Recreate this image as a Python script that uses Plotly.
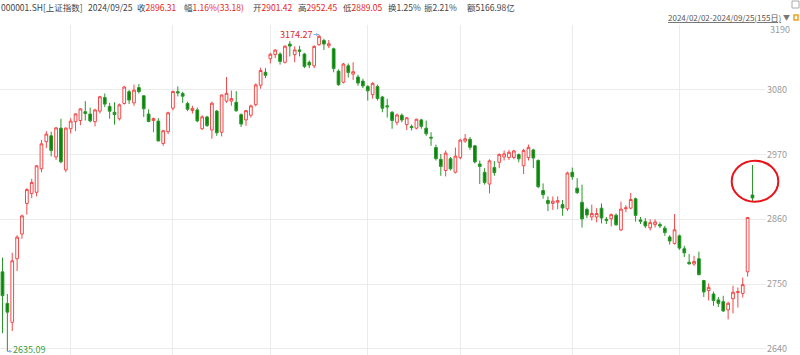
import plotly.graph_objects as go

# ---------------- data ----------------
feb_days = [2, 5, 6, 7, 8, 19, 20, 21, 22, 23, 26, 27, 28, 29]
mar_days = [1, 4, 5, 6, 7, 8, 11, 12, 13, 14, 15, 18, 19, 20, 21, 22, 25, 26, 27, 28, 29]
apr_days = [1, 2, 3, 8, 9, 10, 11, 12, 15, 16, 17, 18, 19, 22, 23, 24, 25, 26, 29, 30]
may_days = [6, 7, 8, 9, 10, 13, 14, 15, 16, 17, 20, 21, 22, 23, 24, 27, 28, 29, 30, 31]
jun_days = [3, 4, 5, 6, 7, 11, 12, 13, 14, 17, 18, 19, 20, 21, 24, 25, 26, 27, 28]
jul_days = [1, 2, 3, 4, 5, 8, 9, 10, 11, 12, 15, 16, 17, 18, 19, 22, 23, 24, 25, 26, 29, 30, 31]
aug_days = [1, 2, 5, 6, 7, 8, 9, 12, 13, 14, 15, 16, 19, 20, 21, 22, 23, 26, 27, 28, 29, 30]
sep_days = [2, 3, 4, 5, 6, 9, 10, 11, 12, 13, 18, 19, 20, 23, 24, 25]

opens = [
    2770.7, 2717, 2685, 2793, 2835, 2887, 2904, 2906, 2946, 2992, 3002, 2966, 3015, 2944,
    3014, 3026, 3028, 3043, 3039, 3026, 3044, 3067, 3052, 3042, 3031, 3057, 3077, 3058, 3084, 3070, 3039, 3028, 3027, 2989, 3009,
    3049, 3077, 3074, 3057, 3045, 3046, 3014, 3034, 3012, 3044, 3008, 3061, 3061, 3059, 3038, 3029, 3037, 3055, 3088, 3110,
    3133, 3140, 3141, 3127, 3158, 3140, 3148, 3141, 3127, 3121, 3157, 3164, 3155, 3150, 3112, 3093, 3121, 3107, 3102, 3095,
    3086, 3072, 3086, 3068, 3053, 3042, 3025, 3037, 3021, 3018, 3015, 3029, 3015, 2999.5, 2982, 2962, 2943, 2963, 2940,
    2965, 2993, 2996, 2985, 2954, 2940, 2920, 2948, 2957, 2966, 2965, 2965, 2970, 2951, 2965, 2978, 2960, 2909, 2892, 2887, 2889, 2885, 2878,
    2940, 2913, 2889, 2877, 2864, 2864, 2879, 2860, 2861, 2867, 2842, 2878, 2879, 2895, 2859, 2856, 2845.5, 2851, 2851, 2845, 2830, 2819,
    2832, 2810, 2787, 2784, 2793, 2756, 2739, 2733, 2723, 2720, 2706, 2725, 2735.5, 2734, 2770.75, 2901.42,
]
highs = [
    2795, 2733, 2803, 2833, 2868, 2913, 2929, 2952, 2995, 3010, 3009, 3017, 3031, 3016,
    3032, 3040, 3049, 3061, 3050, 3048, 3070, 3074, 3058, 3059, 3057, 3087, 3080, 3089, 3090, 3071, 3047, 3033, 3032, 3012, 3043,
    3079, 3086, 3077, 3060, 3053, 3050, 3037, 3036, 3060, 3046, 3072, 3102, 3079, 3078, 3040, 3046, 3055, 3091, 3118, 3117,
    3143, 3149, 3144, 3156, 3163, 3154, 3155, 3143, 3130, 3156, 3174.27, 3167, 3165, 3152, 3115, 3126, 3125, 3127, 3106, 3099,
    3088, 3093, 3089, 3070, 3065, 3044, 3040, 3040, 3034, 3021, 3031, 3031, 3028, 3008, 2987, 2971, 2977, 2966, 2982,
    2997, 3005, 3000, 2986, 2960, 2947, 2962, 2959, 2972, 2977, 2978, 2978, 2972, 2980, 2987, 2980, 2962, 2921, 2899, 2899, 2899, 2893, 2941,
    2948, 2930, 2919, 2880, 2885, 2879, 2887, 2864, 2870, 2870, 2890, 2884, 2905, 2897, 2864, 2862, 2860, 2860, 2855, 2849, 2833, 2869,
    2834, 2815, 2801, 2798, 2805, 2757, 2751, 2737, 2728, 2730, 2720, 2747, 2744, 2761, 2863.13, 2952.45,
]
lows = [
    2666.3, 2635.09, 2670, 2772, 2827, 2868, 2896, 2899, 2940, 2981, 2967, 2961, 2955, 2940,
    3006, 3010, 3020, 3028, 3025, 3018, 3040, 3051, 3031, 3021, 3028, 3055, 3056, 3053, 3074, 3034, 3025, 3008, 2993, 2985, 3005,
    3045, 3069, 3058, 3044, 3040, 3025, 3012, 3017, 2997, 3002, 3001, 3058, 3053, 3043, 3017, 3019, 3033, 3052, 3082, 3100,
    3125, 3134, 3123, 3125, 3137, 3127, 3137, 3117, 3117, 3117, 3155, 3148, 3151, 3110, 3087, 3091, 3101, 3097, 3087, 3083,
    3062, 3065, 3062, 3042, 3033, 3014, 3020, 3025, 3012, 3011, 3013, 3014, 3002, 2985, 2960, 2934, 2933, 2943, 2938,
    2962, 2990, 2978, 2955, 2920, 2919, 2904, 2934, 2947, 2960, 2961, 2962, 2957, 2937, 2960, 2947, 2913, 2895, 2874, 2876, 2877, 2866, 2874,
    2927, 2903, 2846, 2862, 2858, 2855, 2853, 2852, 2848, 2849, 2840, 2872, 2877, 2856, 2852, 2845, 2841, 2846, 2845, 2832, 2817, 2817,
    2808, 2796, 2783, 2781, 2765, 2728, 2722, 2713, 2711, 2703, 2689.7, 2700, 2710, 2727, 2762.6, 2889.05,
]
closes = [
    2730.15, 2702.19, 2789.49, 2829.70, 2865.90, 2910.54, 2922.73, 2950.96, 2988.36, 3004.88, 2977.02, 3015.48, 2957.85, 3015.17,
    3027.02, 3039.31, 3047.79, 3039.93, 3027.40, 3046.02, 3068.46, 3055.94, 3043.83, 3038.23, 3054.64, 3084.93, 3062.76, 3079.69, 3077.11, 3048.03, 3026.31, 3031.48, 2993.14, 3010.66, 3041.17,
    3077.38, 3074.96, 3069.30, 3047.05, 3048.54, 3027.33, 3034.25, 3019.47, 3057.38, 3007.07, 3071.38, 3074.22, 3065.26, 3044.60, 3021.98, 3044.82, 3052.90, 3088.64, 3113.04, 3104.82,
    3140.72, 3147.74, 3128.48, 3154.32, 3154.55, 3148.02, 3145.77, 3119.90, 3122.40, 3154.03, 3171.15, 3157.97, 3158.54, 3116.39, 3088.87, 3124.04, 3109.57, 3111.02, 3091.68, 3086.81,
    3078.49, 3091.20, 3065.40, 3048.79, 3051.28, 3028.05, 3037.47, 3028.92, 3032.63, 3015.89, 3030.25, 3018.05, 3005.44, 2998.14, 2963.10, 2950.00, 2972.53, 2945.85, 2967.40,
    2994.73, 2997.01, 2982.38, 2957.57, 2949.93, 2922.45, 2959.37, 2939.36, 2970.39, 2971.30, 2974.01, 2976.30, 2962.85, 2977.13, 2982.31, 2964.22, 2915.37, 2901.95, 2886.74, 2890.90, 2891.85, 2879.30, 2938.75,
    2932.39, 2905.34, 2860.70, 2867.28, 2869.90, 2869.83, 2862.19, 2858.20, 2867.95, 2850.65, 2877.36, 2879.43, 2893.67, 2866.66, 2856.58, 2848.77, 2854.37, 2855.52, 2848.73, 2837.43, 2823.11, 2842.21,
    2811.04, 2802.98, 2784.28, 2788.31, 2765.81, 2736.49, 2744.19, 2721.80, 2717.12, 2704.09, 2717.28, 2736.02, 2736.81, 2748.92, 2863.13, 2896.31,
]

y_ticks = [2640, 2750, 2860, 2970, 3080, 3190]

# header: (left x px, label, value, value is red?)
header_items = [
    (0, "000001.SH[上证指数]", "", False),
    (87, "2024/09/25", "", False),
    (136, "收", "2896.31", True),
    (183, "幅", "1.16%(33.18)", True),
    (252, "开", "2901.42", True),
    (297, "高", "2952.45", True),
    (342, "低", "2889.05", True),
    (387, "换", "1.25%", False),
    (423, "振", "2.21%", False),
    (466, "额", "5166.98亿", False),
]
range_text = "2024/02/02-2024/09/25(155日)"

# ---------------- build ----------------
months = [(2, feb_days), (3, mar_days), (4, apr_days), (5, may_days),
          (6, jun_days), (7, jul_days), (8, aug_days), (9, sep_days)]
dates = []
month_starts = []
for m, days in months:
    for k, d in enumerate(days):
        s = f"2024/{m:02d}/{d:02d}"
        dates.append(s)
        if k == 0 and m != 2:
            month_starts.append(s)

FONT = "Noto Sans CJK SC, Microsoft YaHei, sans-serif"
RED = "#e41e1e"
GRAY = "#444444"
W, H = 800, 355
ML, MR, MT, MB = 0, 34, 25, 0
PW = W - ML - MR
PH = H - MT - MB
x0_px = 2.5
step = 4.87
x_lo = -x0_px / step
x_hi = x_lo + PW / step

fig = go.Figure()
fig.add_trace(go.Candlestick(
    x=dates, open=opens, high=highs, low=lows, close=closes,
    increasing=dict(line=dict(color="#f24848", width=1), fillcolor="#ffffff"),
    decreasing=dict(line=dict(color="#2a962a", width=1), fillcolor="#088508"),
    whiskerwidth=0, hoverinfo="skip", showlegend=False,
))

i_hi = max(range(len(highs)), key=lambda i: highs[i])
i_lo = min(range(len(lows)), key=lambda i: lows[i])

annotations = []
for x, lab, val, red in header_items:
    txt = lab
    if val:
        txt += f"<span style='color:{RED if red else GRAY}'>{val}</span>"
    annotations.append(dict(xref="paper", yref="paper", x=x / PW, y=1 + (MT - 7) / PH,
                            text=txt, showarrow=False, xanchor="left", yanchor="middle",
                            borderpad=0, font=dict(family=FONT, size=8.5, color=GRAY)))
annotations.append(dict(xref="paper", yref="paper", x=667 / PW, y=1 + (MT - 17.5) / PH,
                        text="<u>" + range_text + "</u>", showarrow=False, xanchor="left", yanchor="middle",
                        borderpad=0, font=dict(family=FONT, size=8, color="#555555")))
annotations.append(dict(xref="paper", yref="paper", x=782 / PW, y=1 + (MT - 17) / PH,
                        text="▼", showarrow=False, xanchor="left", yanchor="middle",
                        borderpad=0, font=dict(family=FONT, size=7, color="#777777")))
# high / low markers
annotations.append(dict(x=dates[i_hi], y=highs[i_hi], xref="x", yref="y",
                        text=f"{highs[i_hi]:.2f}", showarrow=True, ax=-23, ay=0,
                        arrowhead=2, arrowsize=0.6, arrowwidth=1, arrowcolor="#7fb2e0",
                        font=dict(family=FONT, size=9, color="#e02626")))
annotations.append(dict(x=dates[i_lo], y=lows[i_lo], xref="x", yref="y",
                        text=f"{lows[i_lo]:.2f}", showarrow=True, ax=22, ay=-2,
                        arrowhead=2, arrowsize=0.6, arrowwidth=1, arrowcolor="#7fb2e0",
                        font=dict(family=FONT, size=9, color="#3a9f3a")))
# top tick label, shifted down
annotations.append(dict(xref="paper", yref="y", x=1, y=y_ticks[-1], xanchor="left", yanchor="middle",
                        xshift=2, yshift=-4, text=str(y_ticks[-1]), showarrow=False,
                        font=dict(family=FONT, size=9, color="#9a9a9a")))

shapes = [
    dict(type="circle", xref="paper", yref="paper",
         x0=731.7 / PW, x1=778.3 / PW,
         y0=(H - 201.7) / PH, y1=(H - 160.7) / PH,
         line=dict(color="#e8141b", width=2)),
    # small icons at top right
    dict(type="rect", xref="paper", yref="paper", x0=792 / PW, x1=799 / PW,
         y0=1 + (MT - 8) / PH, y1=1 + (MT - 1) / PH,
         line=dict(color="#aaaaaa", width=1)),
    dict(type="rect", xref="paper", yref="paper", x0=794 / PW, x1=798 / PW,
         y0=1 + (MT - 20) / PH, y1=1 + (MT - 15) / PH,
         line=dict(color="#f0a020", width=1.5)),
]

fig.update_layout(
    width=W, height=H,
    margin=dict(l=ML, r=MR, t=MT, b=MB, pad=0),
    paper_bgcolor="white", plot_bgcolor="white",
    showlegend=False, hovermode=False,
    boxgap=0.2,
    annotations=annotations, shapes=shapes,
    xaxis=dict(type="category", range=[x_lo, x_hi], rangeslider=dict(visible=False),
               tickvals=month_starts, showticklabels=False, ticks="",
               showgrid=True, gridcolor="#ebebeb", gridwidth=1,
               showline=False, zeroline=False, fixedrange=True),
    yaxis=dict(side="right", range=[2629.3, 3190.4], tickvals=y_ticks,
               ticktext=[str(v) for v in y_ticks[:-1]] + [""],
               tickfont=dict(family=FONT, size=9, color="#9a9a9a"),
               ticks="", showgrid=True, gridcolor="#ebebeb", gridwidth=1,
               showline=False, zeroline=False, fixedrange=True),
)

fig.write_html("out.html")
